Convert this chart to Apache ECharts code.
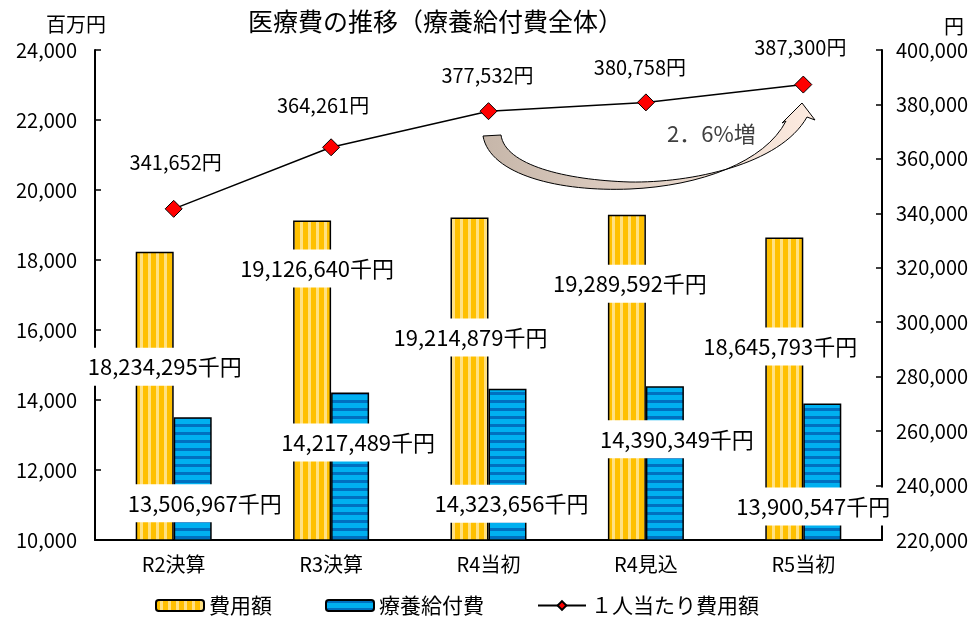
<!DOCTYPE html>
<html>
<head>
<meta charset="utf-8">
<script src="https://cdn.jsdelivr.net/npm/echarts@6/dist/echarts.min.js"></script>
<style>
  html, body { margin: 0; padding: 0; background: #fff; }
  #chart { width: 978px; height: 619px; }
</style>
</head>
<body>
<div id="chart"></div>
<script>
// 年度区分
const categories = ['R2決算', 'R3決算', 'R4当初', 'R4見込', 'R5当初'];
// 費用額・療養給付費（千円）
const costTotal = [18234295, 19126640, 19214879, 19289592, 18645793];
const benefitTotal = [13506967, 14217489, 14323656, 14390349, 13900547];
// １人当たり費用額（円）
const perCapita = [341652, 364261, 377532, 380758, 387300];

// label placement (style only)
const costLabelPos = [[29, 115], [24, 48], [20, 120], [22, 69], [15, 109]];
const benefitLabelPos = [[31, 86], [27, 50], [23, 115], [31, 53], [10, 103]];
const perCapitaLabelOffset = [[2, -22], [-8, -18], [-1, -12], [-6, -11], [-3, -13]];

const FONT = '"Noto Sans CJK JP", "Noto Sans", sans-serif';

function comma(v) {
    return String(v).replace(/\B(?=(\d{3})+(?!\d))/g, ',');
}

function stripes(base, stripe, vertical) {
    const c = document.createElement('canvas');
    c.width = 8;
    c.height = 8;
    const ctx = c.getContext('2d');
    ctx.fillStyle = base;
    ctx.fillRect(0, 0, 8, 8);
    ctx.fillStyle = stripe;
    if (vertical) ctx.fillRect(4, 0, 3, 8);
    else ctx.fillRect(0, 0, 8, 3);
    return { image: c, repeat: 'repeat' };
}

const yellowFill = stripes('#ffc000', '#ffe183', true);
const blueFill = stripes('#00b0f0', '#0070c0', false);

// curved "increase" arrow annotation
echarts.graphic.registerShape('curvedArrow', echarts.graphic.extendPath(
    'M483 136 C490 175 560 192 630 189 C700 186 765 162 786 121 L782 123 L802 103 L815 120 L807 117 C780 165 690 183 630 182 C565 180 505 165 501 135 Z',
    {}
));

const barLabel = {
    show: true,
    align: 'center',
    verticalAlign: 'middle',
    fontSize: 22,
    color: '#000',
    backgroundColor: '#fff',
    padding: [8, 2],
};

const chart = echarts.init(document.getElementById('chart'));

chart.setOption({
    animation: false,
    textStyle: { fontFamily: FONT },
    title: {
        text: '医療費の推移（療養給付費全体）',
        left: 243,
        top: 4,
        textStyle: { fontSize: 25, fontWeight: 'normal', color: '#000', fontFamily: FONT },
    },
    legend: {
        left: 150,
        top: 590,
        itemWidth: 48,
        itemHeight: 11,
        itemGap: 53,
        textStyle: { fontSize: 21, color: '#000', fontFamily: FONT },
        data: ['費用額', '療養給付費', '１人当たり費用額'],
    },
    grid: { left: 95, right: 96, top: 50, bottom: 79 },
    xAxis: {
        type: 'category',
        data: categories,
        axisLine: { lineStyle: { color: '#000', width: 2 } },
        axisTick: { show: false },
        axisLabel: { fontSize: 20, color: '#000', margin: 14 },
    },
    yAxis: [
        {
            type: 'value',
            min: 10000,
            max: 24000,
            interval: 2000,
            name: '百万円',
            nameLocation: 'end',
            nameGap: 16,
            nameTextStyle: { fontSize: 20, color: '#000', padding: [0, 38, 0, 0] },
            axisLine: { show: true, lineStyle: { color: '#000', width: 2 } },
            axisTick: { show: true, inside: true, length: 6, lineStyle: { color: '#000', width: 1.5 } },
            axisLabel: { fontSize: 20, color: '#000', margin: 18, formatter: comma },
            splitLine: { show: false },
        },
        {
            type: 'value',
            min: 220000,
            max: 400000,
            interval: 20000,
            name: '円',
            nameLocation: 'end',
            nameGap: 14,
            nameTextStyle: { fontSize: 20, color: '#000', padding: [0, 0, 0, 144] },
            axisLine: { show: true, lineStyle: { color: '#000', width: 2 } },
            axisTick: { show: true, inside: true, length: 6, lineStyle: { color: '#000', width: 1.5 } },
            axisLabel: { fontSize: 20, color: '#000', margin: 14, formatter: comma },
            splitLine: { show: false },
        },
    ],
    series: [
        {
            name: '費用額',
            type: 'bar',
            barWidth: 38,
            barGap: '0%',
            itemStyle: { color: yellowFill, borderColor: '#000', borderWidth: 1.5 },
            label: barLabel,
            data: costTotal.map((v, i) => ({
                value: v / 1000,
                label: { position: costLabelPos[i], formatter: comma(v) + '千円' },
            })),
        },
        {
            name: '療養給付費',
            type: 'bar',
            barWidth: 38,
            itemStyle: { color: blueFill, borderColor: '#000', borderWidth: 1.5 },
            label: barLabel,
            data: benefitTotal.map((v, i) => ({
                value: v / 1000,
                label: { position: benefitLabelPos[i], formatter: comma(v) + '千円' },
            })),
        },
        {
            name: '１人当たり費用額',
            type: 'line',
            yAxisIndex: 1,
            symbol: 'diamond',
            symbolSize: 17,
            lineStyle: { color: '#000', width: 1.5 },
            itemStyle: { color: '#ff0000', borderColor: '#000', borderWidth: 1 },
            label: { show: true, position: 'top', fontSize: 20, color: '#000' },
            data: perCapita.map((v, i) => ({
                value: v,
                label: { offset: perCapitaLabelOffset[i], formatter: comma(v) + '円' },
            })),
            z: 5,
        },
    ],
    graphic: [
        {
            type: 'curvedArrow',
            z: 100,
            style: {
                fill: {
                    type: 'linear', x: 0, y: 0, x2: 1, y2: 0,
                    colorStops: [{ offset: 0, color: '#c6b6a9' }, { offset: 1, color: '#fdebe0' }],
                },
                stroke: '#000',
                lineWidth: 1,
            },
        },
        {
            type: 'text',
            z: 100,
            left: 667,
            top: 123,
            style: { text: '2．6%増', fontSize: 22, fill: '#404040', fontFamily: FONT },
        },
    ],
});
</script>
</body>
</html>
